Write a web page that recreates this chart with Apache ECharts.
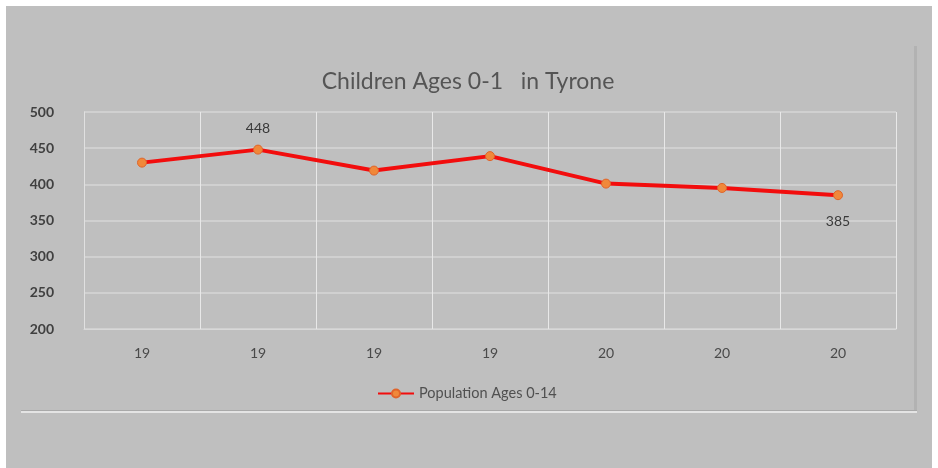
<!DOCTYPE html>
<html>
<head>
<meta charset="utf-8">
<script src="https://cdn.jsdelivr.net/npm/echarts@6/dist/echarts.min.js"></script>
<style>
  html, body { margin: 0; padding: 0; background: #fff; }
  #chart { width: 938px; height: 468px; }
</style>
</head>
<body>
<div id="chart"></div>
<script>
const categories = ['19', '19', '19', '19', '20', '20', '20']
const population = [430, 448, 419, 439, 401, 395, 385]
const labelled = [1, 6]  // only these points carry a value label in the original
const yTicks = { min: 200, max: 500, interval: 50 }

let myChart = echarts.init(document.getElementById('chart'))

let seriesData = population.map((v, i) => {
  if (labelled.indexOf(i) < 0) return v
  return {
    value: v,
    label: {
      show: true,
      position: i === 1 ? 'top' : 'bottom',
      distance: i === 1 ? 9 : 14
    }
  }
})

let option = {
  backgroundColor: '#fff',
  textStyle: { fontFamily: 'Lato' },
  graphic: [
    // grey panel with thin white edge
    { type: 'rect', shape: { x: 6, y: 6, width: 926, height: 462 }, style: { fill: '#bfbfbf' }, z: -10 },
    // vertical edge line at right
    { type: 'rect', shape: { x: 914, y: 46, width: 3, height: 366 }, style: { fill: '#b2b2b2' }, z: -5 },
    // horizontal edge line at bottom
    { type: 'rect', shape: { x: 21, y: 410, width: 896, height: 1 }, style: { fill: '#a9a9a9' }, z: -5 },
    { type: 'rect', shape: { x: 21, y: 411, width: 896, height: 2 }, style: { fill: '#e4e4e4' }, z: -5 }
  ],
  title: {
    text: 'Children Ages 0-1   in Tyrone',
    left: 463,
    textAlign: 'center',
    top: 65,
    textStyle: { color: '#555', fontSize: 23, fontWeight: 'normal', fontFamily: 'Lato' }
  },
  legend: {
    data: ['Population Ages 0-14'],
    left: 372,
    top: 381,
    itemWidth: 36,
    itemHeight: 10,
    itemGap: 4,
    textStyle: { color: '#505050', fontSize: 14.5 }
  },
  grid: {
    left: 84,
    right: 42,
    top: 112,
    bottom: 139
  },
  xAxis: {
    type: 'category',
    data: categories,
    boundaryGap: true,
    axisLine: { show: true, lineStyle: { color: '#d8d8d8' } },
    axisTick: { show: false },
    axisLabel: { color: '#4a4a4a', fontSize: 14, margin: 17 },
    splitLine: { show: true, lineStyle: { color: '#e8e8e8', width: 1 } }
  },
  yAxis: {
    type: 'value',
    min: yTicks.min,
    max: yTicks.max,
    interval: yTicks.interval,
    axisLine: { show: true, lineStyle: { color: '#e0e0e0' } },
    axisTick: { show: false },
    axisLabel: { color: '#404040', fontSize: 14, fontWeight: 'bold', margin: 30 },
    splitLine: { show: true, lineStyle: { color: '#d6d6d6', width: 1.5 } }
  },
  series: [
    {
      name: 'Population Ages 0-14',
      type: 'line',
      data: seriesData,
      symbol: 'circle',
      symbolSize: 9,
      lineStyle: { color: '#f20d0d', width: 4 },
      itemStyle: { color: '#f0883a', borderColor: '#e0642a', borderWidth: 1 },
      label: { color: '#3a3a3a', fontSize: 14 },
      z: 5
    }
  ]
}
myChart.setOption(option)
</script>
</body>
</html>
